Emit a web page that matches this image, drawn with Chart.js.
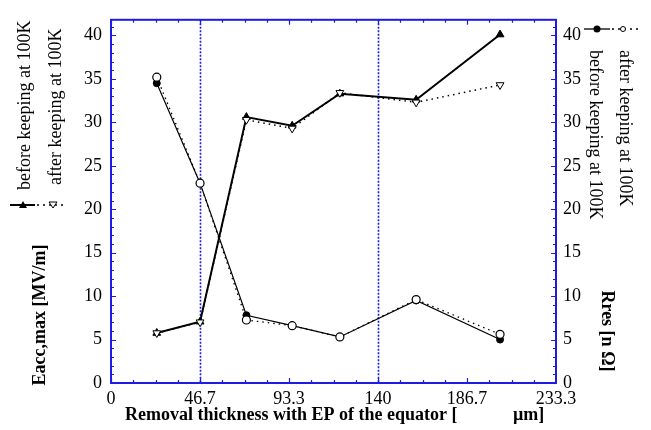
<!DOCTYPE html>
<html><head><meta charset="utf-8">
<script src="https://cdn.jsdelivr.net/npm/chart.js@4/dist/chart.umd.min.js"></script>
<style>html,body{margin:0;padding:0;background:#fff}canvas{display:block}</style>
</head><body>
<canvas id="c" width="651" height="430"></canvas>
<script>
// ---- data ----
const removalThickness = [24, 46.7, 71, 95, 120, 160, 204];
const eaccBefore = [5.75, 7.05, 30.6, 29.6, 33.3, 32.6, 40.1];
const eaccAfter  = [5.75, 7.0, 30.3, 29.3, 33.4, 32.3, 34.3];
const rresBefore = [34.5, 23.0, 7.8, 6.6, 5.3, 9.5, 5.0];
const rresAfter  = [35.2, 23.0, 7.25, 6.6, 5.3, 9.6, 5.6];

const xTickValues = [0, 46.6667, 93.3333, 140, 186.6667, 233.3333];
const xTickLabels = ['0', '46.7', '93.3', '140', '186.7', '233.3'];
const yTickValues = [0, 5, 10, 15, 20, 25, 30, 35, 40];
const guideLines = [46.6667, 140];

const xTitle = 'Removal thickness with EP of the equator [';
const xTitleUnit = 'µm]';
const yTitle = 'Eacc,max [MV/m]';
const y2Title = 'Rres [n Ω]';
const legendBefore = 'before keeping at 100K';
const legendAfter = 'after keeping at 100K';

const BLUE = '#1c1ce6';
const FONT = "'Liberation Serif', 'Times New Roman', serif";

const pts = (ys) => removalThickness.map((x, i) => ({x, y: ys[i]}));

const decor = {
  id: 'decor',
  beforeDatasetsDraw(chart) {
    const {ctx, chartArea: a, scales: {x}} = chart;
    ctx.save();
    ctx.strokeStyle = BLUE;
    ctx.lineWidth = 1.6;
    ctx.setLineDash([2, 1.5]);
    guideLines.forEach(v => {
      const px = Math.round(x.getPixelForValue(v)) + 0.5;
      ctx.beginPath(); ctx.moveTo(px, a.top); ctx.lineTo(px, a.bottom); ctx.stroke();
    });
    ctx.restore();
  },
  afterDraw(chart) {
    const {ctx, chartArea: a, scales: {x, y}} = chart;
    ctx.save();
    // frame
    ctx.strokeStyle = BLUE;
    ctx.lineWidth = 2;
    ctx.strokeRect(a.left, a.top, a.right - a.left, a.bottom - a.top);
    ctx.lineWidth = 1.2;
    // x ticks (inward, top and bottom)
    for (let i = 0; i < xTickValues.length - 1; i++) {
      const v0 = xTickValues[i], v1 = xTickValues[i + 1];
      for (let k = 0; k < 4; k++) {
        const v = v0 + (v1 - v0) * k / 4;
        const len = k === 0 ? 5 : 3;
        const px = Math.round(x.getPixelForValue(v)) + 0.5;
        ctx.beginPath();
        ctx.moveTo(px, a.bottom); ctx.lineTo(px, a.bottom - len);
        ctx.moveTo(px, a.top); ctx.lineTo(px, a.top + len);
        ctx.stroke();
      }
    }
    // y ticks (inward, left and right)
    for (let v = 0; v <= 41; v++) {
      const len = v % 5 === 0 ? 5 : 3;
      const py = Math.round(y.getPixelForValue(v)) + 0.5;
      ctx.beginPath();
      ctx.moveTo(a.left, py); ctx.lineTo(a.left + len, py);
      ctx.moveTo(a.right, py); ctx.lineTo(a.right - len, py);
      ctx.stroke();
    }
    ctx.restore();

    // titles
    ctx.save();
    ctx.fillStyle = '#000';
    ctx.font = 'bold 18px ' + FONT;
    ctx.textBaseline = 'alphabetic';
    ctx.textAlign = 'left';
    ctx.fillText(xTitle, 125, 420);
    ctx.fillText(xTitleUnit, 513, 420);

    ctx.save();
    ctx.translate(40, 315); ctx.rotate(-Math.PI / 2);
    ctx.textAlign = 'center'; ctx.textBaseline = 'middle';
    ctx.fillText(yTitle, 0, 0);
    ctx.restore();

    ctx.save();
    ctx.translate(607, 331); ctx.rotate(Math.PI / 2);
    ctx.textAlign = 'center'; ctx.textBaseline = 'middle';
    ctx.fillText(y2Title, 0, 0);
    ctx.restore();

    // legend texts
    ctx.font = '18px ' + FONT;
    ctx.textAlign = 'left'; ctx.textBaseline = 'middle';
    ctx.save(); ctx.translate(25, 190); ctx.rotate(-Math.PI / 2); ctx.fillText(legendBefore, 0, 0); ctx.restore();
    ctx.save(); ctx.translate(56, 185); ctx.rotate(-Math.PI / 2); ctx.fillText(legendAfter, 0, 0); ctx.restore();
    ctx.save(); ctx.translate(595, 50); ctx.rotate(Math.PI / 2); ctx.fillText(legendBefore, 0, 0); ctx.restore();
    ctx.save(); ctx.translate(625, 50); ctx.rotate(Math.PI / 2); ctx.fillText(legendAfter, 0, 0); ctx.restore();

    // legend samples
    ctx.strokeStyle = '#000'; ctx.fillStyle = '#000';
    // left: Eacc
    const ly = 205;
    ctx.lineWidth = 2; ctx.setLineDash([]);
    ctx.beginPath(); ctx.moveTo(10, ly); ctx.lineTo(35, ly); ctx.stroke();
    ctx.lineWidth = 1.5; ctx.setLineDash([2, 4]);
    ctx.beginPath(); ctx.moveTo(37, ly); ctx.lineTo(66, ly); ctx.stroke();
    ctx.setLineDash([]);
    ctx.beginPath(); ctx.moveTo(23, ly - 4); ctx.lineTo(27, ly + 3); ctx.lineTo(19, ly + 3); ctx.closePath(); ctx.fill();
    ctx.fillStyle = '#fff'; ctx.lineWidth = 1;
    ctx.beginPath(); ctx.moveTo(53, ly + 3); ctx.lineTo(57, ly - 3); ctx.lineTo(49, ly - 3); ctx.closePath(); ctx.fill(); ctx.stroke();
    // right: Rres
    const ry = 29;
    ctx.fillStyle = '#000';
    ctx.lineWidth = 1.3;
    ctx.beginPath(); ctx.moveTo(584, ry); ctx.lineTo(610, ry); ctx.stroke();
    ctx.setLineDash([2, 4]);
    ctx.beginPath(); ctx.moveTo(612, ry); ctx.lineTo(642, ry); ctx.stroke();
    ctx.setLineDash([]);
    ctx.beginPath(); ctx.arc(597, ry, 3.5, 0, Math.PI * 2); ctx.fill();
    ctx.fillStyle = '#fff'; ctx.lineWidth = 1;
    ctx.beginPath(); ctx.arc(623, ry, 2.5, 0, Math.PI * 2); ctx.fill(); ctx.stroke();
    ctx.restore();
  }
};

Chart.defaults.font.family = FONT;
Chart.defaults.color = '#000';

new Chart(document.getElementById('c'), {
  type: 'line',
  data: {
    datasets: [
      {label: 'Eacc after', data: pts(eaccAfter), yAxisID: 'y', borderColor: '#000', borderWidth: 1.5, borderDash: [1.5, 4],
       pointStyle: 'triangle', rotation: 180, pointRadius: 4.5, pointBackgroundColor: '#fff', pointBorderColor: '#000', pointBorderWidth: 1},
      {label: 'Eacc before', data: pts(eaccBefore), yAxisID: 'y', borderColor: '#000', borderWidth: 2,
       pointStyle: 'triangle', pointRadius: 4.5, pointBackgroundColor: '#000', pointBorderColor: '#000', pointBorderWidth: 1},
      {label: 'Rres after', data: pts(rresAfter), yAxisID: 'y2', borderColor: '#000', borderWidth: 1.3, borderDash: [1.5, 4],
       pointStyle: 'circle', pointRadius: 4, pointBackgroundColor: '#fff', pointBorderColor: '#000', pointBorderWidth: 1.2},
      {label: 'Rres before', data: pts(rresBefore), yAxisID: 'y2', borderColor: '#000', borderWidth: 1.2,
       pointStyle: 'circle', pointRadius: 3.5, pointBackgroundColor: '#000', pointBorderColor: '#000', pointBorderWidth: 1}
    ]
  },
  options: {
    responsive: false,
    animation: false,
    devicePixelRatio: 1,
    layout: {padding: {top: 13, left: 0, right: 0, bottom: 0}},
    plugins: {legend: {display: false}, tooltip: {enabled: false}},
    elements: {line: {tension: 0}},
    scales: {
      x: {
        type: 'linear', position: 'bottom', min: 0, max: 233.3333,
        grid: {display: false, drawTicks: false}, border: {display: false},
        afterBuildTicks: (ax) => { ax.ticks = xTickValues.map(v => ({value: v})); },
        afterFit: (ax) => { ax.height = 47; },
        ticks: {autoSkip: false, maxRotation: 0, padding: 5, font: {size: 18},
                callback: (v, i) => xTickLabels[i]}
      },
      y: {
        type: 'linear', position: 'left', min: 0, max: 41.8,
        grid: {display: false, drawTicks: false}, border: {display: false},
        afterBuildTicks: (ax) => { ax.ticks = yTickValues.map(v => ({value: v})); },
        afterFit: (ax) => { ax.width = 111; },
        ticks: {padding: 9, font: {size: 18}, callback: (v) => String(v)}
      },
      y2: {
        type: 'linear', position: 'right', min: 0, max: 41.8,
        grid: {display: false, drawTicks: false}, border: {display: false},
        afterBuildTicks: (ax) => { ax.ticks = yTickValues.map(v => ({value: v})); },
        afterFit: (ax) => { ax.width = 95; },
        ticks: {padding: 7, font: {size: 18}, callback: (v) => String(v)}
      }
    }
  },
  plugins: [decor]
});
</script>
</body></html>
